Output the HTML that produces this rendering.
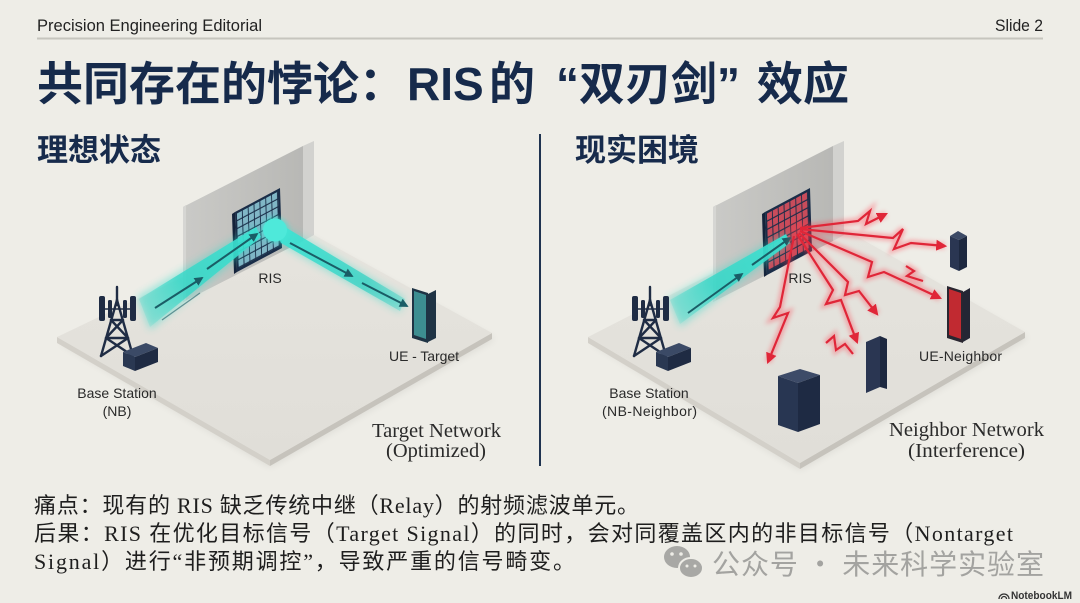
<!DOCTYPE html>
<html><head><meta charset="utf-8">
<style>
html,body{margin:0;padding:0;background:#eeede7;}
svg{display:block;}
.sans{font-family:"Liberation Sans","Noto Sans CJK SC",sans-serif;}
.serif{font-family:"Liberation Serif","Noto Sans CJK SC",serif;}
.body{font-family:"Liberation Serif","Noto Sans CJK SC",sans-serif;}
.cjk{font-family:"Noto Sans CJK SC","WenQuanYi Zen Hei",sans-serif;}
</style></head>
<body>
<svg width="1080" height="603" viewBox="0 0 1080 603" xmlns="http://www.w3.org/2000/svg">
<defs>
  <filter id="b2" x="-50%" y="-50%" width="200%" height="200%"><feGaussianBlur stdDeviation="2"/></filter>
  <filter id="b4" x="-50%" y="-50%" width="200%" height="200%"><feGaussianBlur stdDeviation="4"/></filter>
  <filter id="b6" x="-50%" y="-50%" width="200%" height="200%"><feGaussianBlur stdDeviation="6"/></filter>
  <linearGradient id="wallg" x1="0" y1="0" x2="1" y2="0">
    <stop offset="0" stop-color="#cacac7"/><stop offset="1" stop-color="#b8b8b5"/>
  </linearGradient>
  <linearGradient id="floorg" x1="0" y1="0" x2="0" y2="1">
    <stop offset="0" stop-color="#e6e4de"/><stop offset="1" stop-color="#e0ded8"/>
  </linearGradient>
  <linearGradient id="inL" gradientUnits="userSpaceOnUse" x1="140" y1="312" x2="262" y2="232">
    <stop offset="0" stop-color="#2fd6c6" stop-opacity="0.15"/>
    <stop offset="0.35" stop-color="#2fd6c6" stop-opacity="0.75"/>
    <stop offset="1" stop-color="#3ee3d3" stop-opacity="0.95"/>
  </linearGradient>
  <linearGradient id="outL" gradientUnits="userSpaceOnUse" x1="275" y1="230" x2="406" y2="305">
    <stop offset="0" stop-color="#3ee6d6" stop-opacity="0.95"/>
    <stop offset="0.7" stop-color="#2fd0c2" stop-opacity="0.7"/>
    <stop offset="1" stop-color="#2fd0c2" stop-opacity="0.3"/>
  </linearGradient>
  <linearGradient id="inR" gradientUnits="userSpaceOnUse" x1="672" y1="312" x2="790" y2="238">
    <stop offset="0" stop-color="#2fd6c6" stop-opacity="0.15"/>
    <stop offset="0.35" stop-color="#2fd6c6" stop-opacity="0.75"/>
    <stop offset="1" stop-color="#3ee3d3" stop-opacity="0.95"/>
  </linearGradient>
  <pattern id="cellsB" patternUnits="userSpaceOnUse" x="4" y="4" width="13" height="13">
    <rect width="11" height="11" fill="#80b6c6"/>
  </pattern>
  <pattern id="cellsR" patternUnits="userSpaceOnUse" x="4" y="4" width="13" height="13">
    <rect width="11" height="11" fill="#c84c5b"/>
  </pattern>
  <marker id="ta" viewBox="0 0 10 10" refX="8" refY="5" markerWidth="4.5" markerHeight="4.5" orient="auto">
    <path d="M0,0 L10,5 L0,10 z" fill="#1a5d66"/>
  </marker>
  <marker id="ra" viewBox="0 0 10 10" refX="8" refY="5" markerWidth="5" markerHeight="5" orient="auto">
    <path d="M0,0 L10,5 L0,10 z" fill="#e02638"/>
  </marker>
  <g id="station">
    <g stroke="#1f2c44" stroke-width="2.4" fill="none" stroke-linecap="round">
      <line x1="117" y1="287" x2="117" y2="305"/>
      <line x1="117" y1="300" x2="101" y2="356"/>
      <line x1="117" y1="300" x2="133" y2="356"/>
      <line x1="111" y1="320" x2="123" y2="320"/>
      <line x1="106" y1="338" x2="128" y2="338"/>
      <line x1="111" y1="320" x2="128" y2="338"/>
      <line x1="123" y1="320" x2="106" y2="338"/>
      <line x1="106" y1="338" x2="133" y2="356"/>
      <line x1="128" y1="338" x2="101" y2="356"/>
      <line x1="104" y1="309" x2="131" y2="309" stroke-width="1.6"/>
    </g>
    <g fill="#1f2c44">
      <rect x="99" y="296" width="6" height="25" rx="2"/>
      <rect x="108" y="300" width="4" height="18" rx="1.5"/>
      <rect x="123" y="300" width="4" height="18" rx="1.5"/>
      <rect x="130" y="296" width="6" height="25" rx="2"/>
    </g>
    <polygon points="123,352 146,343 158,348 135,357" fill="#3b4a66"/>
    <polygon points="123,352 135,357 135,371 123,366" fill="#2a3852"/>
    <polygon points="135,357 158,348 158,362 135,371" fill="#1f2b43"/>
  </g>
</defs>

<rect width="1080" height="603" fill="#eeede7"/>

<!-- header -->
<text x="37" y="31" class="sans" font-size="17" fill="#222" textLength="225" lengthAdjust="spacingAndGlyphs">Precision Engineering Editorial</text>
<text x="995" y="31" class="sans" font-size="17" fill="#222" textLength="48" lengthAdjust="spacingAndGlyphs">Slide 2</text>
<line x1="37" y1="38.5" x2="1043" y2="38.5" stroke="#c6c5be" stroke-width="2"/>

<!-- title -->
<g class="sans" font-size="46" font-weight="bold" fill="#162a4b">
  <text x="37" y="100">共同存在的悖论：</text>
  <text x="407" y="100">RIS</text>
  <text x="489" y="100">的</text>
  <text x="556" y="100">“双刃剑”</text>
  <text x="757" y="100">效应</text>
</g>

<!-- subheadings -->
<text x="37" y="161" class="sans" font-size="31" font-weight="bold" fill="#172b4c">理想状态</text>
<text x="575" y="161" class="sans" font-size="31" font-weight="bold" fill="#172b4c">现实困境</text>

<!-- divider -->
<line x1="540" y1="134" x2="540" y2="466" stroke="#1f3350" stroke-width="2"/>

<!-- ================= LEFT PANEL ================= -->
<polygon points="60,343 270,467 495,339 294,228" fill="#000" opacity="0.07" filter="url(#b4)"/>
<polygon points="57,337 270,460 270,466 57,343" fill="#d3d0c9"/>
<polygon points="270,460 492,333 492,339 270,466" fill="#c6c3bc"/>
<polygon points="57,337 294,224 492,333 270,460" fill="url(#floorg)"/>

<!-- wall -->
<polygon points="183,207 303,146 314,141 194,202" fill="#dcdcd9"/>
<polygon points="303,146 314,141 314,235 303,241" fill="#d2d2cf"/>
<polygon points="183,207 303,146 303,241 183,302" fill="url(#wallg)"/>
<polygon points="183,207 186,205 186,300 183,302" fill="#d6d6d3"/>

<!-- RIS left -->
<polygon points="232,214 235,212 237,272 234,274" fill="#14223a"/>
<g transform="matrix(0.45,-0.24,0.02,0.6,235,212)">
  <rect x="0" y="0" width="100" height="100" fill="#1a2d48"/>
  <rect x="4" y="4" width="91" height="91" fill="url(#cellsB)"/>
</g>

<!-- incoming beam left -->
<polygon points="137,297 256,226 262,238 150,330" fill="#35dccb" opacity="0.45" filter="url(#b4)"/>
<polygon points="139,299 256,227 261,237 150,327" fill="url(#inL)"/>
<line x1="155" y1="308" x2="202" y2="278" stroke="#1a5d66" stroke-width="2" marker-end="url(#ta)"/>
<line x1="207" y1="269" x2="257" y2="234" stroke="#1a5d66" stroke-width="2" marker-end="url(#ta)"/>
<line x1="162" y1="320" x2="200" y2="293" stroke="#1a5d66" stroke-width="1.3" opacity="0.6"/>

<!-- outgoing beam left -->
<polygon points="268,217 405,298 400,312 280,244" fill="#35dccb" opacity="0.45" filter="url(#b4)"/>
<polygon points="270,218 405,299 400,311 281,243" fill="url(#outL)"/>
<ellipse cx="275" cy="230" rx="14" ry="13" fill="#44e6d6" opacity="0.6" filter="url(#b2)"/>
<ellipse cx="275" cy="230" rx="12" ry="11.5" fill="#4ee9da"/>
<line x1="290" y1="243" x2="352" y2="276" stroke="#1a5d66" stroke-width="2" marker-end="url(#ta)"/>
<line x1="362" y1="283" x2="407" y2="306" stroke="#1a5d66" stroke-width="2" marker-end="url(#ta)"/>

<!-- UE target phone -->
<polygon points="428,294 436,290 436,338 428,342" fill="#1f3344"/>
<polygon points="412,288 428,293 428,343 412,338" fill="#1f3344"/>
<polygon points="414,291 426,295 426,339 414,335" fill="#3d8e91"/>

<!-- station left -->
<use href="#station"/>

<!-- labels left -->
<g class="sans" font-size="14" fill="#2a2a2a">
  <text x="270" y="283" text-anchor="middle">RIS</text>
  <text x="389" y="361" textLength="70">UE - Target</text>
  <text x="117" y="398" text-anchor="middle">Base Station</text>
  <text x="117" y="416" text-anchor="middle">(NB)</text>
</g>
<g class="serif" font-size="20" fill="#2a2a2a">
  <text x="372" y="437" textLength="129" lengthAdjust="spacingAndGlyphs">Target Network</text>
  <text x="386" y="457" textLength="100" lengthAdjust="spacingAndGlyphs">(Optimized)</text>
</g>

<!-- ================= RIGHT PANEL ================= -->
<polygon points="591,343 800,470 1028,338 823,221" fill="#000" opacity="0.07" filter="url(#b4)"/>
<polygon points="588,337 800,463 800,469 588,343" fill="#d3d0c9"/>
<polygon points="800,463 1025,332 1025,338 800,469" fill="#c6c3bc"/>
<polygon points="588,337 823,217 1025,332 800,463" fill="url(#floorg)"/>

<!-- wall right -->
<polygon points="713,207 833,146 844,141 724,202" fill="#dcdcd9"/>
<polygon points="833,146 844,141 844,235 833,241" fill="#d2d2cf"/>
<polygon points="713,207 833,146 833,241 713,302" fill="url(#wallg)"/>
<polygon points="713,207 716,205 716,300 713,302" fill="#d6d6d3"/>

<!-- RIS right -->
<polygon points="762,214 765,212 767,275 764,277" fill="#14223a"/>
<g transform="matrix(0.45,-0.24,0.02,0.63,765,212)">
  <rect x="0" y="0" width="100" height="100" fill="#1a2d48"/>
  <rect x="4" y="4" width="91" height="91" fill="url(#cellsR)"/>
</g>
<ellipse cx="798" cy="230" rx="10" ry="10" fill="#ff4050" opacity="0.35" filter="url(#b4)"/>

<!-- incoming beam right -->
<polygon points="668,298 786,233 791,244 680,327" fill="#35dccb" opacity="0.45" filter="url(#b4)"/>
<polygon points="670,300 786,234 790,243 680,324" fill="url(#inR)"/>
<line x1="688" y1="313" x2="742" y2="274" stroke="#1a5d66" stroke-width="2" marker-end="url(#ta)"/>
<line x1="752" y1="265" x2="790" y2="238" stroke="#1a5d66" stroke-width="2" marker-end="url(#ta)"/>

<!-- red scatter glow -->
<g fill="none" stroke="#ff3a4c" stroke-width="7" opacity="0.35" filter="url(#b2)" stroke-linejoin="miter">
  <polyline points="800,228 858,221 870,211 866,224 886,214"/>
  <polyline points="800,229 893,238 903,229 894,249 911,243 945,246"/>
  <polyline points="800,231 872,262 868,277 884,272 940,298"/>
  <polyline points="799,233 848,282 845,295 859,291 877,314"/>
  <polyline points="797,234 833,290 826,304 841,300 857,342"/>
  <polyline points="794,236 780,307 773,318 788,313 768,362"/>
  <polyline points="906,266 914,271 907,276 923,281"/>
  <polyline points="826,343 834,336 836,350 845,344 853,354"/>
</g>
<g fill="none" stroke="#e02638" stroke-width="2.2" stroke-linejoin="miter">
  <polyline points="800,228 858,221 870,211 866,224 886,214" marker-end="url(#ra)"/>
  <polyline points="800,229 893,238 903,229 894,249 911,243 945,246" marker-end="url(#ra)"/>
  <polyline points="800,231 872,262 868,277 884,272 940,298" marker-end="url(#ra)"/>
  <polyline points="799,233 848,282 845,295 859,291 877,314" marker-end="url(#ra)"/>
  <polyline points="797,234 833,290 826,304 841,300 857,342" marker-end="url(#ra)"/>
  <polyline points="794,236 780,307 773,318 788,313 768,362" marker-end="url(#ra)"/>
  <polyline points="906,266 914,271 907,276 923,281"/>
  <polyline points="826,343 834,336 836,350 845,344 853,354"/>
</g>

<!-- devices right -->
<polygon points="950,236 958,231 967,236 959,240" fill="#3c4a66"/>
<polygon points="950,236 959,240 959,271 950,267" fill="#2a3652"/>
<polygon points="959,240 967,236 967,267 959,271" fill="#1d283f"/>

<polygon points="963,292 970,288 970,338 963,342" fill="#242634"/>
<polygon points="947,286 963,291 963,343 947,338" fill="#2a2630"/>
<polygon points="949,289 961,293 961,339 949,335" fill="#c12a31"/>

<polygon points="866,342 880,336 880,387 866,393" fill="#2a3652"/>
<polygon points="880,336 887,339 887,389 880,387" fill="#1d283f"/>

<polygon points="778,376 800,369 820,375 798,383" fill="#3d4b68"/>
<polygon points="778,376 798,383 798,432 778,425" fill="#283652"/>
<polygon points="798,383 820,375 820,424 798,432" fill="#1e2a43"/>

<!-- station right -->
<use href="#station" transform="translate(533,0)"/>

<!-- labels right -->
<g class="sans" font-size="14" fill="#2a2a2a">
  <text x="800" y="283" text-anchor="middle">RIS</text>
  <text x="919" y="361" textLength="83">UE-Neighbor</text>
  <text x="649" y="398" text-anchor="middle">Base Station</text>
  <text x="602" y="416" textLength="95">(NB-Neighbor)</text>
</g>
<g class="serif" font-size="20" fill="#2a2a2a">
  <text x="889" y="436" textLength="155" lengthAdjust="spacingAndGlyphs">Neighbor Network</text>
  <text x="908" y="457" textLength="117" lengthAdjust="spacingAndGlyphs">(Interference)</text>
</g>

<!-- bottom text -->
<g class="body" font-size="22" fill="#1e1e1e">
  <text x="34" y="513" textLength="605">痛点：现有的 RIS 缺乏传统中继（Relay）的射频滤波单元。</text>
  <text x="34" y="541" textLength="979">后果：RIS 在优化目标信号（Target Signal）的同时，会对同覆盖区内的非目标信号（Nontarget</text>
  <text x="34" y="569" textLength="541">Signal）进行“非预期调控”，导致严重的信号畸变。</text>
</g>

<!-- watermark -->
<g fill="#a8a8a5">
  <ellipse cx="677" cy="557" rx="13" ry="11"/>
  <ellipse cx="691" cy="568" rx="12" ry="10" stroke="#eeede7" stroke-width="2"/>
  <circle cx="672" cy="554" r="1.8" fill="#eeede7"/>
  <circle cx="681" cy="554" r="1.8" fill="#eeede7"/>
  <circle cx="687" cy="566" r="1.5" fill="#eeede7"/>
  <circle cx="695" cy="566" r="1.5" fill="#eeede7"/>
</g>
<text x="712" y="574" class="cjk" font-size="28" fill="#a3a3a0" textLength="332">公众号 · 未来科学实验室</text>

<!-- NotebookLM -->
<g fill="none" stroke="#333" stroke-width="1.3">
  <path d="M999,599 A5,5 0 0 1 1009,599"/>
  <path d="M1001.5,599 A2.5,2.5 0 0 1 1006.5,599"/>
</g>
<text x="1011" y="599" class="sans" font-size="11" font-weight="bold" fill="#333" textLength="61" lengthAdjust="spacingAndGlyphs">NotebookLM</text>
</svg>
</body></html>
